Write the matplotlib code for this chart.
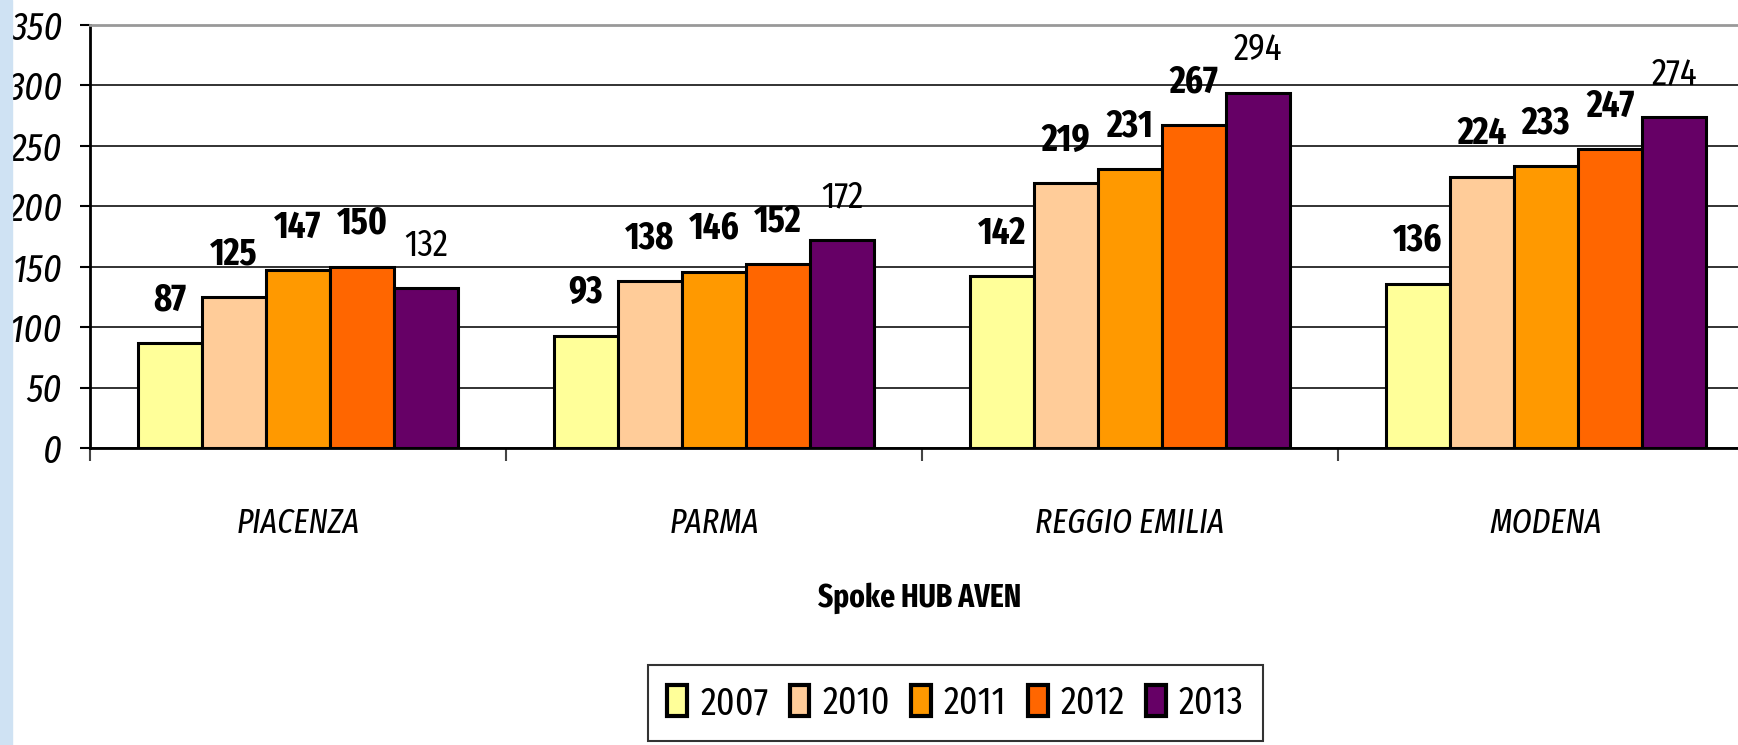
import matplotlib.pyplot as plt
import numpy as np
from matplotlib import font_manager
from matplotlib.patches import Rectangle, Patch

# data
categories = ["PIACENZA", "PARMA", "REGGIO EMILIA", "MODENA"]
years = ["2007", "2010", "2011", "2012", "2013"]
values_2007 = [87, 93, 142, 136]
values_2010 = [125, 138, 219, 224]
values_2011 = [147, 146, 231, 233]
values_2012 = [150, 152, 267, 247]
values_2013 = [132, 172, 294, 274]
series = [values_2007, values_2010, values_2011, values_2012, values_2013]
colors = ["#FFFF99", "#FFCC99", "#FF9900", "#FF6600", "#660066"]

# narrow Calibri-like font, whichever is installed
installed = {f.name for f in font_manager.fontManager.ttflist}
wanted = ["Fira Sans Extra Condensed", "Barlow Condensed", "Sofia Sans Condensed", "Carlito"]
chosen = [n for n in wanted if n in installed][:1]
plt.rcParams["font.family"] = chosen + ["DejaVu Sans"]

W, H = 1738, 745
fig = plt.figure(figsize=(W / 100, H / 100), dpi=100)

# light blue strip at left edge
fig.patches.append(Rectangle((0, 0), 12 / W, 1, transform=fig.transFigure, color="#cfe2f3", zorder=0))

left, right, bottom, top = 90, 1754, 448, 25
ax = fig.add_axes([left / W, 1 - bottom / H, (right - left) / W, (bottom - top) / H])

x = np.arange(len(categories))
width = 0.154
for i, (vals, col) in enumerate(zip(series, colors)):
    pos = x + (i - 2) * width
    ax.bar(pos, vals, width, color=col, edgecolor="black", linewidth=2.2, zorder=3, label=years[i])
    for p, v in zip(pos, vals):
        ax.annotate(str(v), (p, v), xytext=(0, 31), textcoords="offset points", ha="center", va="center",
                    fontsize=27, fontweight="normal" if i == 4 else "bold", zorder=4)

ax.set_xlim(-0.5, 3.5)
ax.set_ylim(0, 350)
ax.set_yticks(np.arange(0, 351, 50))
ax.yaxis.grid(True, color="#222222", linewidth=1.3, zorder=0)
ax.set_axisbelow(True)

ax.set_xticks(np.arange(-0.5, 3.6, 1.0))
ax.set_xticklabels([])
ax.set_xticks(x, minor=True)
ax.set_xticklabels(categories, minor=True, fontsize=25, fontstyle="italic")
ax.tick_params(axis="x", which="major", direction="out", length=9, width=1.5, color="#444444")
ax.tick_params(axis="x", which="minor", length=0, pad=42)
ax.tick_params(axis="y", direction="out", length=7, width=1.5, pad=13, labelsize=28)
for lab in ax.get_yticklabels():
    lab.set_fontstyle("italic")

ax.spines["left"].set_linewidth(2)
ax.spines["bottom"].set_linewidth(2)
ax.spines["right"].set_visible(False)
ax.spines["top"].set_color("#999999")
ax.spines["top"].set_linewidth(2)

fig.text(920 / W, 1 - 598 / H, "Spoke HUB AVEN", ha="center", va="center", fontsize=23, fontweight="bold")

handles = [Patch(facecolor=c, edgecolor="black", linewidth=3) for c in colors]
leg = fig.legend(handles, years, loc="upper left", bbox_to_anchor=(648 / W, 1 - 665 / H), ncol=5,
                 fontsize=28, frameon=True, fancybox=False, edgecolor="black", borderaxespad=0,
                 handlelength=0.51, handleheight=0.85, handletextpad=0.33, columnspacing=0.55,
                 borderpad=0.5)
leg.get_frame().set_linewidth(1.5)

fig.savefig("out.png", dpi=100)
